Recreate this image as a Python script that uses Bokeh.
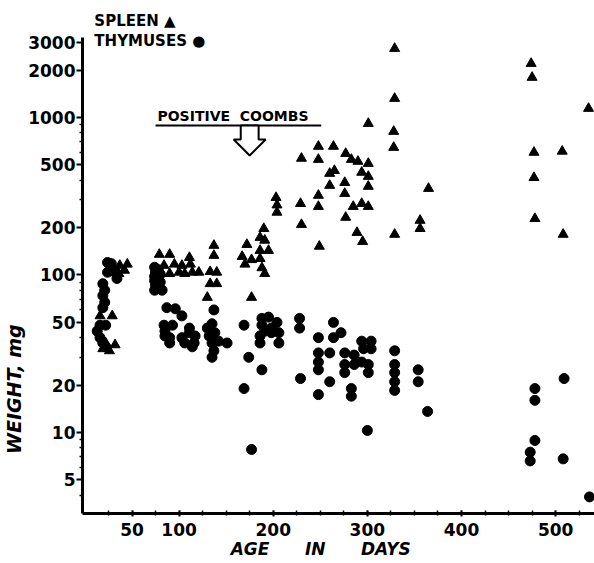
import math
from bokeh.plotting import figure
from bokeh.models import FixedTicker, Label
from bokeh.embed import file_html
from bokeh.resources import INLINE

# ---- data (age in days, weight in mg) ----
SPLEEN_AGE = [28, 37, 45, 32, 42, 36, 16, 29, 22, 32, 19, 26,
              79, 90, 111, 121, 84, 95, 103, 112, 90, 100, 106, 114,
              137, 137, 133, 140, 133, 140, 130,
              190, 186, 191, 172, 186, 195, 167, 177, 170, 186, 188, 191, 177, 203, 204, 204,
              230, 248, 248, 264, 277, 283, 290, 301, 265, 260, 294, 301, 260, 276, 301, 248,
              276, 365, 229, 248, 285, 294, 301, 277, 230, 289, 295, 249, 329, 356, 356,
              329, 329, 301, 328, 328, 474, 475, 535, 477, 507, 477, 478, 508]
SPLEEN_WT = [117, 115, 117, 107, 107, 102, 55, 55, 37, 36, 34, 33,
             135, 135, 129, 104, 115, 117, 115, 117, 102, 104, 102, 104,
             154, 133, 105, 104, 88, 88, 72,
             197, 173, 166, 156, 143, 143, 131, 125, 117, 127, 111, 102, 72, 310, 278, 250,
             550, 655, 541, 655, 590, 541, 526, 510, 460, 441, 448, 422, 370, 386, 365, 320,
             329, 354, 284, 272, 272, 284, 272, 232, 209, 186, 163, 152, 181, 222, 197,
             2740, 1320, 915, 815, 645, 2200, 1795, 1140, 600, 610, 415, 228, 181]

THYMUS_AGE = [24, 28, 24, 32, 34, 19, 21, 19, 21, 19, 22, 16, 13, 16, 19, 22,
              74, 78, 75, 80, 74, 78, 74, 80, 75, 79, 74, 82,
              87, 96, 103, 84, 93, 111, 85, 90, 103, 106, 116, 111, 117, 114, 85, 90,
              137, 135, 130, 138, 132, 142, 151, 135, 137, 135,
              169, 188, 188, 195, 204, 191, 198, 186, 206, 198, 186, 206, 174, 188, 169, 177,
              228, 228, 229, 248, 248, 248, 248, 248, 260, 260, 264, 272, 264, 276, 276, 276,
              286, 286, 294, 304, 296, 304, 301, 301, 294, 283, 283, 300,
              329, 329, 329, 329, 329, 354, 354, 364,
              478, 478, 478, 473, 473, 509, 508, 536]
THYMUS_WT = [120, 118, 104, 104, 95, 88, 80, 74, 67, 62, 48, 48, 44, 40, 37, 35,
             112, 108, 104, 101, 98, 95, 92, 90, 86, 83, 80, 80,
             62, 61, 55, 48, 48, 46, 41, 37, 40, 37, 37, 43, 41, 35, 44, 40,
             60, 49, 46, 43, 41, 38, 37, 37, 33, 30,
             48, 53, 48, 54, 50, 44, 43, 41, 43, 46, 37, 37, 30, 25, 19, 7.8,
             53, 46, 22, 40, 32, 28, 25, 17.4, 32, 21, 50, 43, 40, 32, 27, 24,
             31, 27, 38, 38, 34, 34, 27, 24, 28, 19, 17, 10.3,
             33, 27, 24, 21, 18.5, 25, 21, 13.6,
             19, 16, 8.9, 7.5, 6.6, 22, 6.8, 3.9]

X_TICKS = [50, 100, 200, 300, 400, 500]
X_MINOR = list(range(25, 541, 25))
Y_TICKS = [5, 10, 20, 50, 100, 200, 500, 1000, 2000, 3000]
Y_MINOR = [4, 6, 7, 8, 9, 30, 40, 60, 70, 80, 90, 300, 400, 600, 700, 800, 900]
Y_LABELS = {t: str(t) for t in Y_TICKS}

NB = "\u00a0"
X_TITLE = "AGE" + NB * 6 + "IN" + NB * 6 + "DAYS" + NB * 6
Y_TITLE = "WEIGHT, mg" + NB * 38

# annotation positions (data space)
COOMBS_AGE = 175
COOMBS_TEXT_X = 77
COOMBS_LINE = (75, 251)
COOMBS_TOP, COOMBS_BASE, COOMBS_TIP = 890, 725, 574
SHAFT_HW, HEAD_HW = 9.5, 17

FONT = "DejaVu Sans"

p = figure(width=594, height=563, x_range=(-2.6, 541.3), y_range=(3.06, 4570),
           y_axis_type="log", output_backend="svg", toolbar_location=None,
           title=None, min_border_left=80, min_border_right=0,
           min_border_top=13, min_border_bottom=50)
p.xgrid.visible = False
p.ygrid.visible = False
p.outline_line_color = None
p.background_fill_color = "white"
p.border_fill_color = "white"

for ax in (p.xaxis[0], p.yaxis[0]):
    ax.axis_line_width = 3
    ax.axis_line_color = "black"
    ax.major_tick_line_width = 2
    ax.minor_tick_line_width = 1.5
    ax.major_tick_line_color = "black"
    ax.minor_tick_line_color = "black"
    ax.major_label_text_font = FONT
    ax.major_label_text_font_style = "bold"
    ax.major_label_text_font_size = "17px"
    ax.major_label_text_color = "black"
    ax.axis_label_text_font = FONT
    ax.axis_label_text_font_style = "bold italic"
    ax.axis_label_text_color = "black"

p.xaxis.ticker = FixedTicker(ticks=X_TICKS, minor_ticks=X_MINOR)
p.xaxis.major_tick_in = 3
p.xaxis.major_tick_out = 3
p.xaxis.minor_tick_in = 3
p.xaxis.minor_tick_out = 2
p.xaxis.major_label_standoff = 6
p.xaxis.axis_label = X_TITLE
p.xaxis.axis_label_text_font_size = "17px"
p.xaxis.axis_label_standoff = 0

p.yaxis.ticker = FixedTicker(ticks=Y_TICKS, minor_ticks=Y_MINOR)
p.yaxis.bounds = (3.06, 3200)
p.yaxis.major_label_overrides = Y_LABELS
p.yaxis.major_tick_in = 0
p.yaxis.major_tick_out = 6
p.yaxis.minor_tick_in = 0
p.yaxis.minor_tick_out = 3
p.yaxis.major_label_standoff = 1
p.yaxis.axis_label = Y_TITLE
p.yaxis.axis_label_text_font_size = "19px"
p.yaxis.axis_label_standoff = 0

p.scatter(SPLEEN_AGE, SPLEEN_WT, marker="triangle", size=10,
          fill_color="black", line_color="black")
p.scatter(THYMUS_AGE, THYMUS_WT, marker="circle", size=10,
          fill_color="black", line_color="black")

# Positive Coombs annotation: underline + hollow arrow
p.line(list(COOMBS_LINE), [COOMBS_TOP, COOMBS_TOP], line_color="black", line_width=2)
ax_ = [COOMBS_AGE - SHAFT_HW, COOMBS_AGE - SHAFT_HW, COOMBS_AGE - HEAD_HW, COOMBS_AGE,
       COOMBS_AGE + HEAD_HW, COOMBS_AGE + SHAFT_HW, COOMBS_AGE + SHAFT_HW]
ay_ = [COOMBS_TOP, COOMBS_BASE, COOMBS_BASE, COOMBS_TIP, COOMBS_BASE, COOMBS_BASE, COOMBS_TOP]
p.patch(ax_, ay_, fill_color="white", line_color="black", line_width=2)

p.add_layout(Label(x=COOMBS_TEXT_X, y=1015, text="POSITIVE" + NB * 2 + "COOMBS",
                   text_font=FONT, text_font_style="bold", text_font_size="14px",
                   text_color="black", text_baseline="middle", text_align="left"))

# legend text
p.add_layout(Label(x=10, y=4070, text="SPLEEN \u25B2", text_font=FONT,
                   text_font_style="bold", text_font_size="15px", text_color="black",
                   text_baseline="middle"))
p.add_layout(Label(x=10, y=3038, text="THYMUSES \u25CF", text_font=FONT,
                   text_font_style="bold", text_font_size="15px", text_color="black",
                   text_baseline="middle"))

open("out.html", "w").write(file_html(p, INLINE))
